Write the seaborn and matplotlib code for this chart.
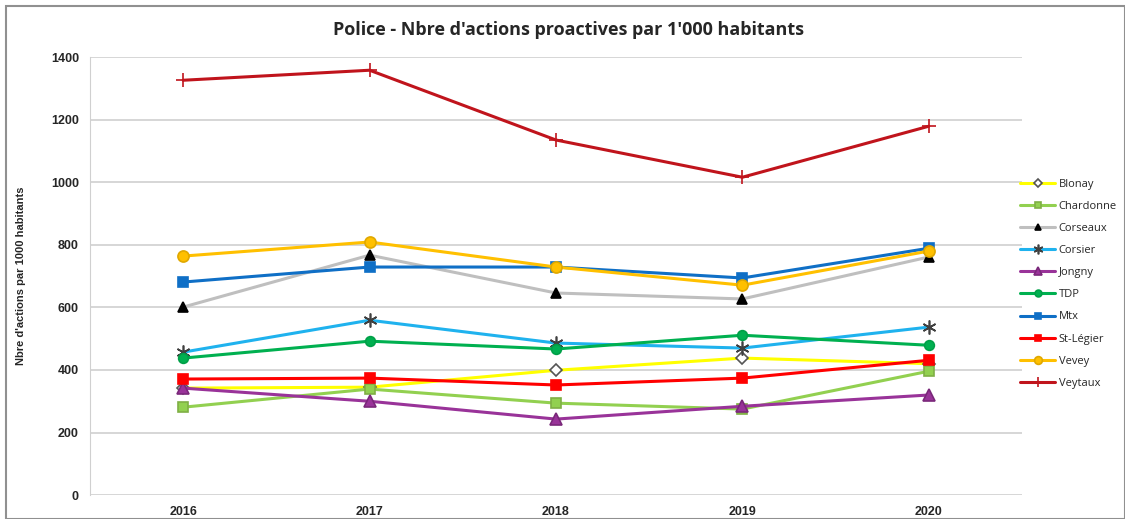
import matplotlib
matplotlib.use("Agg")
import matplotlib.pyplot as plt
import seaborn as sns
import pandas as pd
from matplotlib.patches import Rectangle

# données
annees = [2016, 2017, 2018, 2019, 2020]
communes = ["Blonay", "Chardonne", "Corseaux", "Corsier", "Jongny",
            "TDP", "Mtx", "St-Légier", "Vevey", "Veytaux"]

blonay = [342, 345, 399, 438, 420]
chardonne = [281, 339, 294, 275, 396]
corseaux = [601, 767, 646, 627, 761]
corsier = [457, 559, 486, 470, 537]
jongny = [342, 300, 243, 284, 320]
tdp = [438, 492, 467, 511, 479]
mtx = [681, 729, 729, 694, 789]
st_legier = [371, 374, 352, 374, 431]
vevey = [764, 809, 729, 671, 780]
veytaux = [1326, 1358, 1135, 1016, 1179]

valeurs = [blonay, chardonne, corseaux, corsier, jongny,
           tdp, mtx, st_legier, vevey, veytaux]

# style de chaque série : couleur ligne, marqueur, face, bord, taille
styles = {
    "Blonay":    ("#FFFF00", "D", "white", "#555555", 6),
    "Chardonne": ("#92D050", "s", "#92D050", "#7FAF45", 7),
    "Corseaux":  ("#BFBFBF", "^", "black", "black", 7),
    "Corsier":   ("#1FB2EE", (6, 2, 0), "#404040", "#404040", 10),
    "Jongny":    ("#993399", "^", "#993399", "#7A287A", 8),
    "TDP":       ("#00B050", "o", "#00B050", "#00A048", 7),
    "Mtx":       ("#0F6FC6", "s", "#0F6FC6", "#0F6FC6", 7),
    "St-Légier": ("#FF0000", "s", "#FF0000", "#FF0000", 7),
    "Vevey":     ("#FFC000", "o", "#FFC000", "#E0A800", 8),
    "Veytaux":   ("#C0141C", "+", "#C0141C", "#C0141C", 10),
}

df = pd.DataFrame({"annee": annees * len(communes),
                   "commune": [c for c in communes for _ in annees],
                   "valeur": [v for serie in valeurs for v in serie]})

sns.set_style("white")
plt.rcParams['font.family'] = ['Liberation Sans', 'DejaVu Sans']

fig = plt.figure(figsize=(11.25, 5.19), dpi=100)
ax = fig.add_axes([0.08, 0.046, 0.8284, 0.844])

for commune in communes:
    col, mk, fc, ec, ms = styles[commune]
    sns.lineplot(data=df[df.commune == commune], x="annee", y="valeur",
                 ax=ax, color=col, marker=mk, markersize=ms,
                 markerfacecolor=fc, markeredgecolor=ec,
                 markeredgewidth=1.2, linewidth=2.2, label=commune)

ax.set_xlim(2015.5, 2020.5)
ax.set_ylim(0, 1400)
ax.set_yticks(range(0, 1401, 200))
ax.set_xticks(annees)
ax.set_xticklabels([str(a) for a in annees], fontsize=9, fontweight="bold")
ax.set_yticklabels([str(v) for v in range(0, 1401, 200)], fontsize=9, fontweight="bold")
ax.tick_params(length=0, pad=8)
ax.grid(axis="y", color="#D0D0D0", linewidth=1.2)
ax.set_axisbelow(True)
for s in ["top", "right", "bottom"]:
    ax.spines[s].set_visible(False)
ax.spines["left"].set_color("#D0D0D0")
ax.set_xlabel("")
ax.set_ylabel("Nbre d'actions par 1000 habitants", fontsize=8, fontweight="bold", labelpad=18)

ax.legend(loc="upper left", bbox_to_anchor=(0.987, 0.745), frameon=False,
          labelspacing=1.0, handlelength=3.2, handletextpad=0.3, markerscale=0.7,
          prop={"family": "Open Sans", "size": 8})

fig.text(0.505, 0.942, "Police - Nbre d'actions proactives par 1'000 habitants",
         ha="center", va="center", fontsize=13, fontweight="bold", family="Open Sans")

fig.patches.append(Rectangle((0.005, 0.0), 0.995, 0.988, transform=fig.transFigure,
                             fill=False, edgecolor="#909090", linewidth=1.5))

fig.savefig("out.png", dpi=100)
